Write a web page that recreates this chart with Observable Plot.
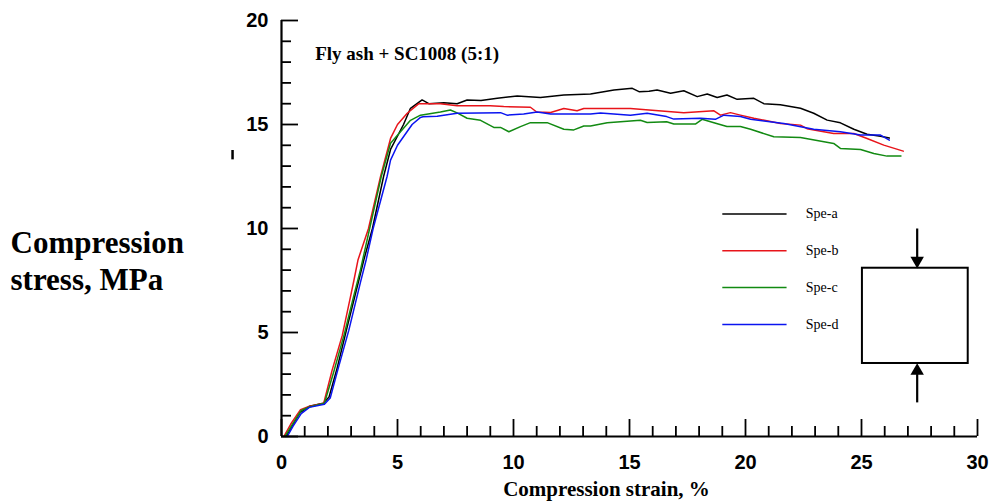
<!DOCTYPE html>
<html>
<head>
<meta charset="utf-8">
<script src="https://cdn.jsdelivr.net/npm/d3@7"></script>
<script src="https://cdn.jsdelivr.net/npm/@observablehq/plot@0.6"></script>
<style>
  html, body { margin: 0; padding: 0; background: #fff; }
  #chart svg { display: block; }
</style>
</head>
<body>
<div id="chart"></div>
<script>
// ---- data ----
const seriesNames = ["Spe-a", "Spe-b", "Spe-c", "Spe-d"];
const seriesColors = ["#000000", "#e8141a", "#128a12", "#0a14f0"];

const speA_x = [0.2,0.45,0.8,1.2,1.8,2.05,2.4,2.83,3.33,3.55,3.92,4.4,4.7,5.26,5.56,6.06,6.35,7.0,7.57,8.0,8.6,9.3,10.16,11.16,12.17,13.32,14.33,15.12,15.41,15.84,16.19,16.77,17.34,17.92,18.35,18.78,19.2,19.64,20.36,20.79,21.5,22.37,22.94,23.52,24.09,24.67,25.24,25.82,26.2];
const speA_y = [0,0.5,1.15,1.45,1.6,1.9,3.3,5.26,7.5,8.5,10.0,12.5,13.8,15.0,15.78,16.18,16.0,16.05,16.0,16.18,16.15,16.26,16.37,16.3,16.42,16.47,16.66,16.74,16.58,16.6,16.66,16.5,16.62,16.34,16.47,16.3,16.42,16.21,16.26,16.0,15.95,15.78,15.54,15.21,15.08,14.77,14.53,14.44,14.35];

const speB_x = [0.1,0.4,0.82,1.18,1.82,2.18,2.62,2.97,3.12,3.3,3.75,4.27,4.7,5.0,5.42,5.92,6.85,7.57,8.99,9.58,10.73,11.0,11.6,12.17,12.74,13.03,15.04,15.84,17.34,18.64,18.92,19.35,19.78,20.36,21.51,22.37,22.65,23.8,24.67,25.24,25.96,26.8];
const speB_y = [0,0.6,1.29,1.44,1.6,3.18,4.86,6.7,7.5,8.5,10.0,12.5,14.33,15.0,15.54,16.0,16.0,15.9,15.9,15.86,15.83,15.6,15.58,15.77,15.66,15.77,15.77,15.7,15.57,15.66,15.45,15.57,15.45,15.3,15.05,14.97,14.8,14.57,14.57,14.33,14.01,13.72];

const speC_x = [0.15,0.45,0.85,1.2,1.85,2.25,2.7,3.1,3.4,3.8,4.3,4.7,5.4,5.56,5.99,6.85,7.28,7.57,8.0,8.58,9.15,9.44,9.8,10.3,10.73,11.45,12.17,12.6,13.03,13.32,14.04,15.47,15.76,16.6,16.91,17.84,18.13,18.64,19.2,19.78,20.22,21.22,22.37,23.8,24.09,24.96,25.53,26.1,26.7];
const speC_y = [0,0.55,1.25,1.42,1.6,3.1,4.9,6.7,8.0,10.0,12.5,14.1,15.0,15.2,15.45,15.6,15.7,15.56,15.3,15.2,14.86,14.86,14.65,14.9,15.09,15.09,14.77,14.74,14.93,14.93,15.08,15.2,15.1,15.13,15.02,15.02,15.25,15.08,14.9,14.9,14.77,14.41,14.38,14.09,13.85,13.8,13.61,13.48,13.48];

const speD_x = [0.25,0.5,0.85,1.2,1.85,2.1,2.45,2.9,3.4,3.65,3.95,4.55,4.7,5.0,5.63,5.99,6.1,6.71,7.57,9.44,9.72,10.44,11.02,11.6,13.32,13.75,15.04,15.76,16.6,16.91,18.06,18.7,19.07,19.78,20.22,21.65,22.94,24.09,24.96,25.82,26.2];
const speD_y = [0,0.5,1.1,1.4,1.55,1.85,3.3,5.1,7.4,8.5,10.0,12.5,13.29,14.0,15.0,15.34,15.37,15.4,15.54,15.57,15.45,15.5,15.6,15.5,15.5,15.55,15.45,15.54,15.38,15.26,15.3,15.25,15.45,15.38,15.25,15.05,14.77,14.65,14.49,14.49,14.25];

const xMajorTicks = [0, 5, 10, 15, 20, 25, 30];
const yMajorTicks = [0, 5, 10, 15, 20];
const xMinorTicks = d3.range(0, 31).filter(v => v % 5 !== 0);
const yMinorTicks = d3.range(0, 21).filter(v => v % 5 !== 0);

const chartTitle = "Fly ash + SC1008 (5:1)";
const xTitle = "Compression strain, %";
const yTitle = "Compression\nstress, MPa";

// ---- build table ----
const xs = [speA_x, speB_x, speC_x, speD_x];
const ys = [speA_y, speB_y, speC_y, speD_y];
const rows = [];
seriesNames.forEach((name, i) => {
  xs[i].forEach((x, j) => rows.push({series: name, x, y: ys[i][j]}));
});

// legend & inset layout (annotation positions in data units)
const legendRows = seriesNames.map((name, i) => ({series: name, y: 10.7 - i * 1.77}));
const box = [{x1: 25.04, x2: 29.6, y1: 3.51, y2: 8.09}];
const shafts = [{x: 27.4, y1: 10.0, y2: 8.6}, {x: 27.4, y1: 1.64, y2: 3.0}];
const heads = [{x: 27.4, y: 8.45, rot: 180}, {x: 27.4, y: 3.15, rot: 0}];

const serif = "'Liberation Serif', 'Times New Roman', serif";
const sans = "'Liberation Sans', Arial, sans-serif";

const chart = Plot.plot({
  width: 994,
  height: 502,
  marginLeft: 281,
  marginRight: 17,
  marginTop: 20,
  marginBottom: 66,
  style: {background: "#fff", color: "#000", fontFamily: sans},
  x: {domain: [0, 30]},
  y: {domain: [0, 20]},
  color: {domain: seriesNames, range: seriesColors},
  marks: [
    // data lines
    Plot.line(rows, {x: "x", y: "y", z: "series", stroke: "series", strokeWidth: 1.5}),
    // axis lines
    Plot.ruleX([0], {strokeWidth: 2.2}),
    Plot.ruleY([0], {strokeWidth: 2.2}),
    // ticks (inward)
    Plot.axisX({ticks: xMajorTicks, tickSize: -17, text: null, label: null, strokeWidth: 1.8}),
    Plot.axisX({ticks: xMinorTicks, tickSize: -10, text: null, label: null, strokeWidth: 1.8}),
    Plot.axisY({ticks: yMajorTicks, tickSize: -17, text: null, label: null, strokeWidth: 1.8}),
    Plot.axisY({ticks: yMinorTicks, tickSize: -10, text: null, label: null, strokeWidth: 1.8}),
    // tick labels
    Plot.axisX({ticks: xMajorTicks, tickSize: 0, tickPadding: 18, label: null, fontSize: 20, fontWeight: "bold", fontFamily: sans}),
    Plot.axisY({ticks: yMajorTicks, tickSize: 0, tickPadding: 13, label: null, fontSize: 20, fontWeight: "bold", fontFamily: sans}),
    // axis titles
    Plot.text([xTitle], {frameAnchor: "bottom", dx: -23, dy: 59, fontSize: 21, fontWeight: "bold", fontFamily: serif, lineAnchor: "bottom"}),
    Plot.text([yTitle], {frameAnchor: "left", dx: -271, dy: 31, textAnchor: "start", fontSize: 31, fontWeight: "bold", fontFamily: serif, lineHeight: 1.2}),
    // chart title
    Plot.text([chartTitle], {x: 1.45, y: 18.4, textAnchor: "start", fontSize: 19, fontWeight: "bold", fontFamily: serif}),
    // stray mark next to axis
    Plot.ruleX([-2.11], {y1: 13.3, y2: 13.75, strokeWidth: 2.5}),
    // legend
    Plot.link(legendRows, {x1: 19.0, x2: 21.77, y1: "y", y2: "y", stroke: "series", strokeWidth: 1.5}),
    Plot.text(legendRows, {x: 22.6, y: "y", text: "series", textAnchor: "start", fontSize: 14, fontFamily: serif}),
    // specimen inset
    Plot.rect(box, {x1: "x1", x2: "x2", y1: "y1", y2: "y2", fill: "#fff", stroke: "#000", strokeWidth: 2}),
    Plot.link(shafts, {x1: "x", x2: "x", y1: "y1", y2: "y2", stroke: "#000", strokeWidth: 2.2}),
    Plot.dot(heads, {x: "x", y: "y", symbol: "triangle", r: 5, fill: "#000", stroke: "none", rotate: "rot"})
  ]
});
document.getElementById("chart").appendChild(chart);
</script>
</body>
</html>
